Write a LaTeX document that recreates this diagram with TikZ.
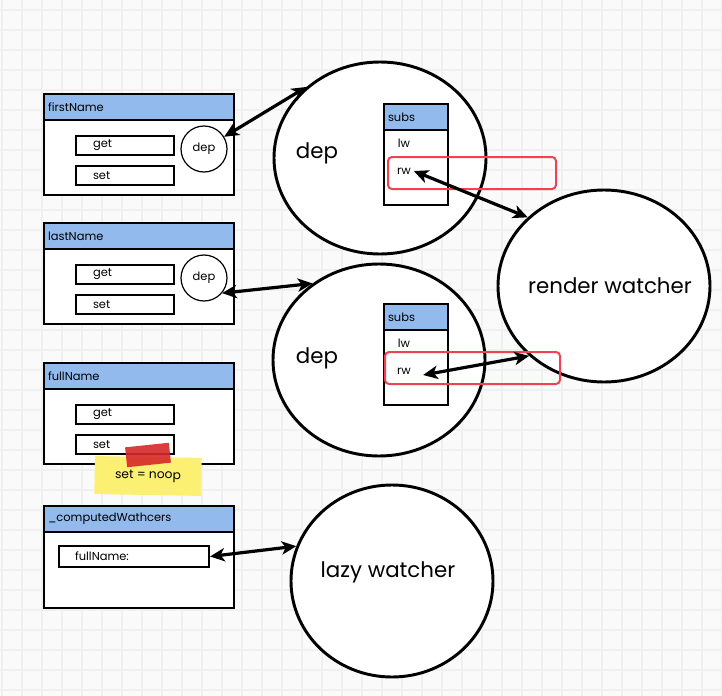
\documentclass[tikz,border=0pt]{standalone}
\usepackage{fontspec}
\setmainfont{Poppins}
\usetikzlibrary{shapes.geometric,arrows.meta}

\definecolor{headblue}{RGB}{146,186,236}
\definecolor{hired}{RGB}{242,65,80}
\definecolor{noteyellow}{RGB}{252,240,115}
\definecolor{tapered}{RGB}{214,40,42}
\definecolor{paper}{RGB}{250,250,250}
\definecolor{gridgray}{RGB}{240,240,240}

\tikzset{
  small/.style={font=\fontsize{8.6}{10}\selectfont},
  panel/.style={draw, line width=1.5pt, fill=white, anchor=north west, inner sep=0pt},
  head/.style={panel, fill=headblue, small, text width=136.5pt, inner xsep=3pt, align=left, minimum height=19.5pt},
  field/.style={panel, small, text width=48pt, inner xsep=12.75pt, align=left, minimum height=14.25pt},
  smalldep/.style={circle, draw, line width=0.9pt, fill=white, minimum size=34.5pt, inner sep=0pt, small},
  bigcircle/.style={ellipse, draw, line width=2.2pt, fill=white, minimum width=159pt, minimum height=144pt, inner sep=0pt},
  bigtext/.style={font=\fontsize{16}{19}\selectfont},
  item/.style={small, inner sep=2pt},
  hilite/.style={draw=hired, line width=1.5pt, rounded corners=3pt, anchor=north west, minimum height=24pt, inner sep=0pt},
  link/.style={line width=2.4pt, arrows={Stealth[length=11pt,width=10pt,inset=3pt]-Stealth[length=11pt,width=10pt,inset=3pt]}}
}

\begin{document}
\begin{tikzpicture}[x=0.75pt, y=-0.75pt]
  \useasboundingbox (0,0) rectangle (722,696);
  \fill[paper] (0,0) rectangle (722,696);
  \foreach \gx in {2,22,...,722} \draw[gridgray, line width=0.8pt] (\gx,0) -- (\gx,696);
  \foreach \gy in {10,30,...,690} \draw[gridgray, line width=0.8pt] (0,\gy) -- (722,\gy);

  % firstName
  \node[panel, minimum width=142.5pt, minimum height=75.75pt] (first) at (43,93) {};
  \node[head] (firsthead) at (43,93) {firstName};
  \node[field] (firstget) at (75,135) {get};
  \node[field] (firstset) at (75,165) {set};
  \node[smalldep] (firstdep) at (204,149) {dep};

  % lastName
  \node[panel, minimum width=142.5pt, minimum height=75.75pt] (last) at (43,222) {};
  \node[head] (lasthead) at (43,222) {lastName};
  \node[field] (lastget) at (75,264) {get};
  \node[field] (lastset) at (75,294) {set};
  \node[smalldep] (lastdep) at (204,278) {dep};

  % fullName
  \node[panel, minimum width=142.5pt, minimum height=75.75pt] (full) at (43,362) {};
  \node[head] (fullhead) at (43,362) {fullName};
  \node[field] (fullget) at (75,404) {get};
  \node[field] (fullset) at (75,434) {set};

  % _computedWathcers
  \node[panel, minimum width=142.5pt, minimum height=76.5pt] (comp) at (43,505) {};
  \node[head] (comphead) at (43,505) {\_computedWathcers};
  \node[field, text width=88.5pt, inner xsep=12pt, minimum height=15.75pt] (lazyfield) at (58,545) {fullName:};

  % circles
  \node[bigcircle] (dep1) at (380,158) {};
  \node[bigtext] (dep1text) at (317,153) {dep};
  \node[bigcircle] (dep2) at (379,360) {};
  \node[bigtext] (dep2text) at (317,358) {dep};
  \node[bigcircle] (rwatch) at (604,286) {};
  \node[bigtext] (rwatchtext) at (610,286) {render watcher};
  \node[bigcircle, minimum width=151.5pt] (lazy) at (392,581) {};
  \node[bigtext] (lazytext) at (388,572) {lazy watcher};

  % subs
  \node[panel, minimum width=48pt, minimum height=75.75pt] (subs1) at (383,103) {};
  \node[head, text width=42pt] (subs1head) at (383,103) {subs};
  \node[item] (lw1) at (404,143) {lw};
  \node[item] (rw1) at (404,171) {rw};
  \node[panel, minimum width=48pt, minimum height=75.75pt] (subs2) at (383,303) {};
  \node[head, text width=42pt] (subs2head) at (383,303) {subs};
  \node[item] (lw2) at (404,343) {lw};
  \node[item] (rw2) at (404,371) {rw};

  \node[hilite, minimum width=126pt] (hl1) at (387,156) {};
  \node[hilite, minimum width=131.25pt] (hl2) at (384,351) {};

  \draw[link] (firstdep) -- (dep1.136);
  \draw[link] (lastdep.-40) -- (dep2.131);
  \draw[link] (rw1.east) -- (rwatch.138);
  \draw[link] ([xshift=7pt,yshift=-3pt]rw2.east) -- (rwatch.223);
  \draw[link] (lazyfield.east) -- (lazy.160);

  % sticky note
  \node[fill=noteyellow, rotate=-1, minimum width=80pt, minimum height=28.5pt, font=\fontsize{9.2}{11}\selectfont] (noop) at (148,476) {set = noop};
  \node[fill=tapered, opacity=0.9, rotate=6, minimum width=33pt, minimum height=15pt] (tape) at (148,455) {};
\end{tikzpicture}
\end{document}
